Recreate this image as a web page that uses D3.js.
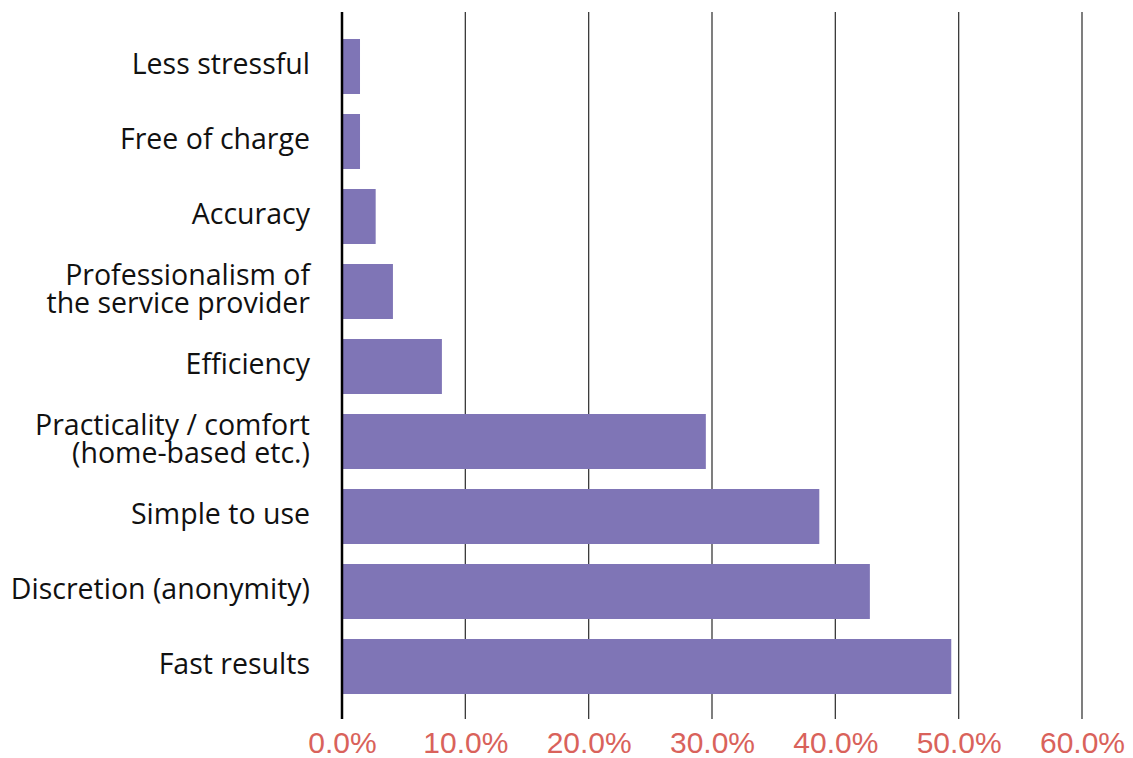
<!DOCTYPE html>
<html>
<head>
<meta charset="utf-8">
<script src="https://cdn.jsdelivr.net/npm/d3@7"></script>
<style>
  html, body { margin: 0; padding: 0; background: #fff; }
  svg { display: block; }
</style>
</head>
<body>
<script>
const categories = [
  ["Less stressful"],
  ["Free of charge"],
  ["Accuracy"],
  ["Professionalism of", "the service provider"],
  ["Efficiency"],
  ["Practicality / comfort", "(home-based etc.)"],
  ["Simple to use"],
  ["Discretion (anonymity)"],
  ["Fast results"]
];
const values = [0.0146, 0.0146, 0.0273, 0.0413, 0.081, 0.295, 0.387, 0.428, 0.494];
const tickValues = [0, 0.1, 0.2, 0.3, 0.4, 0.5, 0.6];

const W = 1133, H = 758;
const svg = d3.select("body").append("svg").attr("width", W).attr("height", H);

const x = d3.scaleLinear().domain([0, 0.6]).range([342, 1082]);
const keys = categories.map(c => c.join(" "));
const y = d3.scaleBand().domain(keys).range([29, 704]).paddingInner(0.2667).paddingOuter(0.1333);

// gridlines
svg.append("g").selectAll("line").data(tickValues.slice(1)).join("line")
  .attr("x1", d => x(d)).attr("x2", d => x(d))
  .attr("y1", 12).attr("y2", 719)
  .attr("stroke", "#3a3a3a").attr("stroke-width", 1.3);

// bars
svg.append("g").selectAll("rect").data(values).join("rect")
  .attr("x", x(0))
  .attr("y", (d, i) => y(keys[i]))
  .attr("width", d => x(d) - x(0))
  .attr("height", y.bandwidth())
  .attr("fill", "#7f75b6");

// zero axis line
svg.append("line")
  .attr("x1", x(0)).attr("x2", x(0)).attr("y1", 12).attr("y2", 719)
  .attr("stroke", "#000").attr("stroke-width", 2.5);

// x tick labels
const xAxis = d3.axisBottom(x).tickValues(tickValues).tickFormat(d3.format(".1%")).tickSize(0).tickPadding(0);
const gx = svg.append("g").attr("transform", "translate(0,722)").call(xAxis);
gx.select(".domain").remove();
gx.selectAll("text")
  .attr("dy", null).attr("y", 31)
  .attr("font-family", "'Liberation Sans', Arial, sans-serif")
  .attr("font-size", 30)
  .attr("fill", "#d9625b");

// category labels
const lab = svg.append("g").selectAll("text").data(categories).join("text")
  .attr("text-anchor", "end")
  .attr("font-family", "'Open Sans', 'Noto Sans', sans-serif")
  .attr("font-size", 28.5)
  .attr("fill", "#111")
  .attr("x", 310)
  .attr("y", (d, i) => y(keys[i]) + y.bandwidth() / 2);
lab.each(function(d) {
  const t = d3.select(this);
  const n = d.length, lh = 28;
  d.forEach((line, j) => {
    t.append("tspan").attr("x", 310)
      .attr("dy", j === 0 ? ((-(n - 1) / 2) * lh + 7.5) : lh)
      .text(line);
  });
});
</script>
</body>
</html>
